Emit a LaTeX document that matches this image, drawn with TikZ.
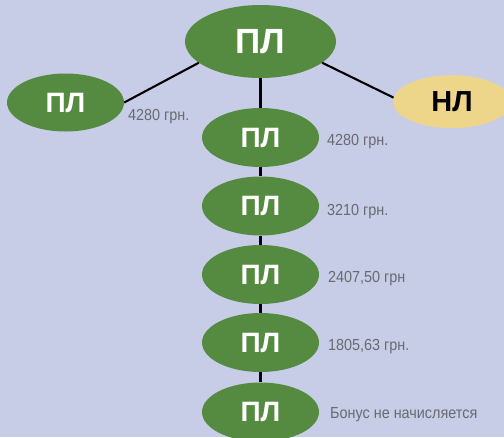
\documentclass[tikz,border=0pt]{standalone}
\usepackage{fontspec}
\setmainfont{Liberation Sans}
\newfontfamily\labfont[FakeStretch=0.9]{Liberation Sans}
\usetikzlibrary{shapes.geometric}
\definecolor{bg}{RGB}{199,205,230}
\definecolor{grn}{RGB}{84,139,64}
\definecolor{yel}{RGB}{237,213,138}
\definecolor{lab}{RGB}{105,106,112}
\tikzset{
  pl/.style={ellipse, fill=grn, inner sep=0pt, text=white, font=\bfseries\fontsize{28}{30}\selectfont,
             minimum width=117pt, minimum height=59pt},
  nl/.style={ellipse, fill=yel, inner sep=0pt, text=black, font=\bfseries\fontsize{29}{31}\selectfont,
             minimum width=118pt, minimum height=53pt},
  conn/.style={draw=black, line width=2.1pt},
  amount/.style={anchor=base west, inner sep=0pt, text=lab, font=\labfont\fontsize{16}{18}\selectfont}
}
\begin{document}
\begin{tikzpicture}[x=1pt,y=-1pt]
\fill[bg] (0,0) rectangle (504,437);
\useasboundingbox (0,0) rectangle (504,437);
\node[pl, minimum width=151pt, minimum height=73pt, font=\bfseries\fontsize{35}{37}\selectfont] (T) at (260.5,41.5) {ПЛ};
\node[pl, minimum height=58pt] (L) at (65.5,102.5) {ПЛ};
\node[nl] (R) at (452,101.7) {НЛ};
\node[pl] (C1) at (260.5,137.5) {ПЛ};
\node[pl] (C2) at (260.5,206) {ПЛ};
\node[pl] (C3) at (260.5,274.5) {ПЛ};
\node[pl] (C4) at (260.5,342.5) {ПЛ};
\node[pl] (C5) at (260.5,412) {ПЛ};
\draw[conn] (T.199) -- (L.east);
\draw[conn] (T.341) -- (R.176);
\draw[conn] (T.south) -- (C1.north);
\draw[conn] (C1.south) -- (C2.north);
\draw[conn] (C2.south) -- (C3.north);
\draw[conn] (C3.south) -- (C4.north);
\draw[conn] (C4.south) -- (C5.north);
\node[amount] (aL) at (128,120) {4280 грн.};
\node[amount] (a1) at (327,145) {4280 грн.};
\node[amount] (a2) at (327,215) {3210 грн.};
\node[amount] (a3) at (328,282) {2407,50 грн};
\node[amount] (a4) at (328,350) {1805,63 грн.};
\node[amount] (a5) at (330,418) {Бонус не начисляется};
\end{tikzpicture}
\end{document}
